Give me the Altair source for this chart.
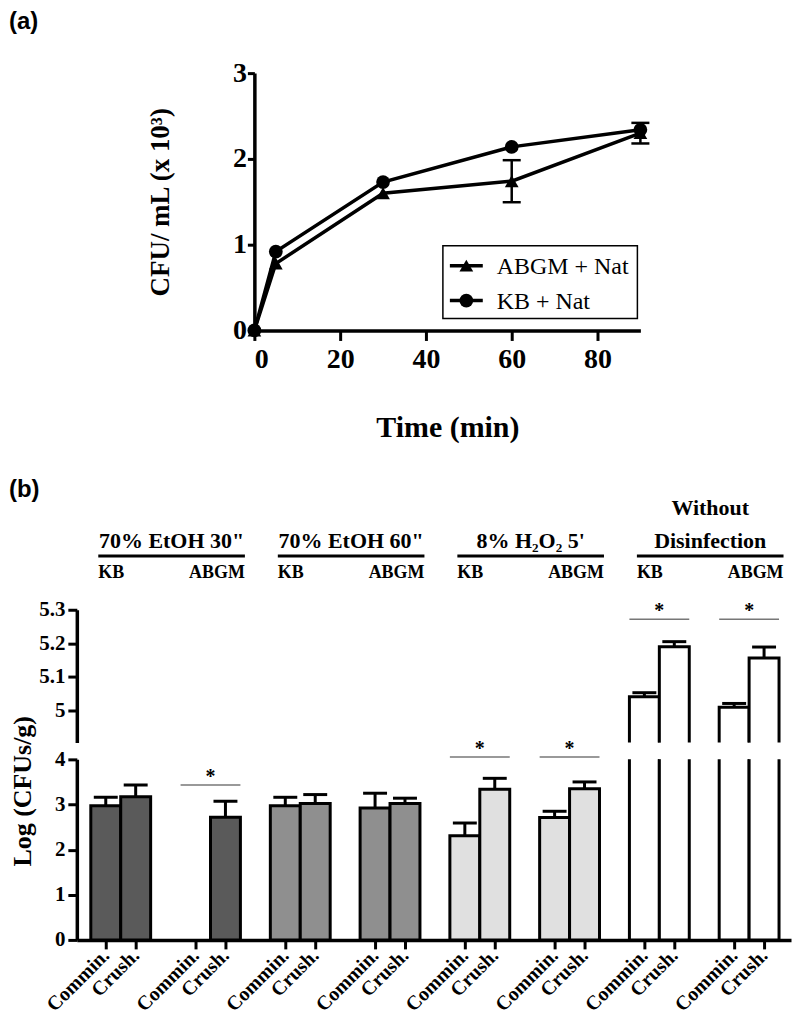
import altair as alt
import pandas as pd

SERIF = "Liberation Serif"
SANS = "Liberation Sans"

# ---------------- Panel (a) data ----------------
time_min = [0, 5, 30, 60, 90]
abgm_nat = [0.0, 0.78, 1.60, 1.74, 2.30]
abgm_nat_err = [0.0, 0.0, 0.0, 0.245, 0.12]
kb_nat = [0.0, 0.92, 1.73, 2.14, 2.34]
kb_nat_err = [0.0, 0.0, 0.0, 0.0, 0.0]
series_names = ["ABGM + Nat", "KB + Nat"]
series_shapes = ["triangle-up", "circle"]

# ---------------- Panel (b) data ----------------
treatments_upper = ["", "", "", "Without"]
treatments_lower = ["70% EtOH 30\"", "70% EtOH 60\"", "8% H\u2082O\u2082 5'", "Disinfection"]
media = ["KB", "ABGM"]
methods = ["Commin.", "Crush."]
log_cfu = [2.97, 3.17, 0.0, 2.72, 2.97, 3.02, 2.92, 3.02,
           2.31, 3.34, 2.71, 3.35, 5.041, 5.190, 5.010, 5.156]
log_cfu_err = [0.19, 0.26, 0.0, 0.35, 0.19, 0.20, 0.33, 0.12,
               0.28, 0.24, 0.14, 0.15, 0.012, 0.015, 0.011, 0.033]
fill_by_treatment = ["#5a5a5a", "#8f8f8f", "#e0e0e0", "#ffffff"]
significant_groups = [1, 4, 5, 6, 7]
significance_level = [3.43, 4.05, 4.05, 5.272, 5.272]

# ---------------- build tables ----------------
rows_a = []
for name, vals, errs in [(series_names[0], abgm_nat, abgm_nat_err),
                         (series_names[1], kb_nat, kb_nat_err)]:
    for t, v, e in zip(time_min, vals, errs):
        rows_a.append(dict(series=name, time=t, value=v, lo=v - e, hi=v + e,
                           cl=t - 2.1, cr=t + 2.1, err=e))
df_a = pd.DataFrame(rows_a)
df_a_err = df_a[df_a["err"] > 0]

rows_b = []
for i, v in enumerate(log_cfu):
    g, b = divmod(i, 2)
    t = g // 2
    p = 3 * g + b
    rows_b.append(dict(pos=p, left=p - 0.5, right=p + 0.5, value=v,
                       top=v + log_cfu_err[i], cl=p - 0.4, cr=p + 0.4,
                       fill=fill_by_treatment[t], err=log_cfu_err[i], zero=0.0))
df_b = pd.DataFrame(rows_b)
df_bars = df_b[df_b["value"] > 0]
tick_positions = [int(p) for p in df_b["pos"]]

sig = pd.DataFrame(dict(
    g=significant_groups, level=significance_level,
    x0=[3 * g - 0.5 for g in significant_groups],
    x1=[3 * g + 1.5 for g in significant_groups],
    xc=[3 * g + 0.5 for g in significant_groups],
    star=["*"] * len(significant_groups)))
sig_low = sig[sig["level"] < 4.5]
sig_high = sig[sig["level"] > 4.5]

n_tr = len(treatments_lower)
hdr = pd.DataFrame(dict(
    upper=treatments_upper, lower=treatments_lower,
    start=[6 * k - 0.25 for k in range(n_tr)],
    end=[6 * k + 4.65 for k in range(n_tr)]))
hdr["center"] = (hdr["start"] + hdr["end"]) / 2
hdr["kb"] = media[0]
hdr["abgm"] = media[1]

# ---------------- Panel (a) ----------------
WA, HA = 387, 258
xa = alt.X("time:Q", scale=alt.Scale(domain=[0, 90], nice=False),
           axis=alt.Axis(values=[0, 20, 40, 60, 80], title="Time (min)", grid=False,
                         tickSize=10, tickWidth=3, domainWidth=3.5, labelPadding=5,
                         labelFont=SERIF, labelFontSize=28, labelFontWeight="bold",
                         titleFont=SERIF, titleFontSize=30, titleFontWeight="bold",
                         titlePadding=39, labelColor="black", titleColor="black",
                         domainColor="black", tickColor="black"))
ya = alt.Y("value:Q", scale=alt.Scale(domain=[0, 3], nice=False),
           axis=alt.Axis(values=[0, 1, 2, 3], format="d", title="CFU/ mL (x 10\u00b3)",
                         grid=False, tickSize=7, tickWidth=3, domainWidth=3.5,
                         labelPadding=1, labelFont=SERIF, labelFontSize=28,
                         labelFontWeight="bold", titleFont=SERIF, titleFontSize=27,
                         titleFontWeight="bold", titlePadding=58, labelColor="black",
                         titleColor="black", domainColor="black", tickColor="black"))

base_a = alt.Chart(df_a)
lines_a = base_a.mark_line(color="black", strokeWidth=3.5).encode(
    x=xa, y=ya, detail="series:N")
err_a = alt.Chart(df_a_err).mark_rule(color="black", strokeWidth=2.5).encode(
    x="time:Q", y="lo:Q", y2="hi:Q")
cap_lo = alt.Chart(df_a_err).mark_rule(color="black", strokeWidth=2.5).encode(
    x="cl:Q", x2="cr:Q", y="lo:Q")
cap_hi = alt.Chart(df_a_err).mark_rule(color="black", strokeWidth=2.5).encode(
    x="cl:Q", x2="cr:Q", y="hi:Q")
pts_a = base_a.mark_point(filled=True, color="black", opacity=1, size=190).encode(
    x="time:Q", y="value:Q",
    shape=alt.Shape("series:N", scale=alt.Scale(domain=series_names, range=series_shapes),
                    legend=None))

# legend box (drawn by hand to show the line through each symbol)
one = pd.DataFrame({"k": [0]})
legend_layers = [alt.Chart(one).mark_rect(fill="white", stroke="black", strokeWidth=1.5).encode(
    x=alt.value(189), x2=alt.value(384), y=alt.value(173), y2=alt.value(246))]
for i, (name, shp) in enumerate(zip(series_names, series_shapes)):
    ly = 193 + 35 * i
    row = pd.DataFrame({"label": [name]})
    legend_layers.append(alt.Chart(row).mark_rule(color="black", strokeWidth=3.5).encode(
        x=alt.value(196), x2=alt.value(229), y=alt.value(ly)))
    legend_layers.append(alt.Chart(row).mark_point(filled=True, color="black", opacity=1,
                                                   size=190, shape=shp).encode(
        x=alt.value(212.5), y=alt.value(ly)))
    legend_layers.append(alt.Chart(row).mark_text(font=SERIF, fontSize=24, align="left",
                                                  baseline="middle", color="black").encode(
        x=alt.value(243), y=alt.value(ly + 1), text="label:N"))

label_a = alt.Chart(pd.DataFrame({"t": ["(a)"]})).mark_text(
    font=SANS, fontSize=24, fontWeight="bold", align="left", baseline="middle",
    color="black").encode(text="t:N", x=alt.value(-246), y=alt.value(-51))

panel_a = alt.layer(lines_a, err_a, cap_lo, cap_hi, pts_a, *legend_layers, label_a
                    ).properties(width=WA, height=HA)

spacer = alt.Chart(pd.DataFrame({"s": [""]})).mark_text().encode(
    text="s:N", x=alt.value(0), y=alt.value(0)).properties(width=178, height=HA)

# ---------------- Panel (b) ----------------
WB = 716
xdom = [-0.967, 22.9]
xs = alt.Scale(domain=xdom, nice=False, zero=False)

ax_common = dict(grid=False, tickWidth=3, domainWidth=3.5, labelFont=SERIF,
                 labelFontWeight="bold", labelColor="black", domainColor="black",
                 tickColor="black")

# top segment
top_scale = alt.Scale(domain=[4.905, 5.3], nice=False, zero=False)
top_axis = alt.Axis(values=[5.0, 5.1, 5.2, 5.3], format="~g", title=None, tickSize=9,
                    labelPadding=3, labelFontSize=21, **ax_common)
bars_top = alt.Chart(df_bars[df_bars["value"] > 4.9]).mark_bar(
    stroke="black", strokeWidth=3, clip=True).encode(
    x=alt.X("left:Q", scale=xs, axis=None), x2="right:Q",
    y=alt.Y("value:Q", scale=top_scale, axis=top_axis), y2="zero:Q",
    fill=alt.Fill("fill:N", scale=None))
err_top = alt.Chart(df_bars[df_bars["value"] > 4.9]).mark_rule(
    color="black", strokeWidth=3).encode(x="pos:Q", y="value:Q", y2="top:Q")
cap_top = alt.Chart(df_bars[df_bars["value"] > 4.9]).mark_rule(
    color="black", strokeWidth=3).encode(x="cl:Q", x2="cr:Q", y="top:Q")
sig_top = alt.Chart(sig_high).mark_rule(color="#777777", strokeWidth=1.5).encode(
    x="x0:Q", x2="x1:Q", y="level:Q")
star_top = alt.Chart(sig_high).mark_text(font=SERIF, fontSize=20, fontWeight="bold",
                                         baseline="alphabetic", dy=-2, color="black").encode(
    x="xc:Q", y="level:Q", text="star:N")
hdr_lower = alt.Chart(hdr).mark_text(font=SERIF, fontSize=22, fontWeight="bold",
                                     baseline="alphabetic", color="black").encode(
    x="center:Q", y=alt.value(-62), text="lower:N")
hdr_upper = alt.Chart(hdr).mark_text(font=SERIF, fontSize=22, fontWeight="bold",
                                     baseline="alphabetic", color="black").encode(
    x="center:Q", y=alt.value(-95), text="upper:N")
hdr_line = alt.Chart(hdr).mark_rule(color="black", strokeWidth=3).encode(
    x="start:Q", x2="end:Q", y=alt.value(-54))
hdr_kb = alt.Chart(hdr).mark_text(font=SERIF, fontSize=18, fontWeight="bold", align="left",
                                  baseline="alphabetic", color="black").encode(
    x="start:Q", y=alt.value(-32), text="kb:N")
hdr_abgm = alt.Chart(hdr).mark_text(font=SERIF, fontSize=18, fontWeight="bold", align="right",
                                    baseline="alphabetic", color="black").encode(
    x="end:Q", y=alt.value(-32), text="abgm:N")
label_b = alt.Chart(pd.DataFrame({"t": ["(b)"]})).mark_text(
    font=SANS, fontSize=24, fontWeight="bold", align="left", baseline="middle",
    color="black").encode(text="t:N", x=alt.value(-68), y=alt.value(-120))

top_seg = alt.layer(bars_top, err_top, cap_top, sig_top, star_top, hdr_lower, hdr_upper,
                    hdr_line, hdr_kb, hdr_abgm, label_b).properties(width=WB, height=133)

# bottom segment
low_scale = alt.Scale(domain=[0, 4], nice=False)
low_axis = alt.Axis(values=[0, 1, 2, 3, 4], format="d", title=None, tickSize=9,
                    labelPadding=3, labelFontSize=21, **ax_common)
x_axis_b = alt.Axis(values=tick_positions, title=None, tickSize=9, labelAngle=315,
                    labelAlign="right", labelBaseline="middle", labelPadding=3,
                    labelFontSize=20, labelOverlap=False, labelBound=False,
                    labelFlush=False,
                    labelExpr="datum.value % 3 == 0 ? 'Commin.' : 'Crush.'", **ax_common)
bars_low = alt.Chart(df_bars).mark_bar(stroke="black", strokeWidth=3, clip=True).encode(
    x=alt.X("left:Q", scale=xs, axis=x_axis_b), x2="right:Q",
    y=alt.Y("value:Q", scale=low_scale, axis=low_axis), y2="zero:Q",
    fill=alt.Fill("fill:N", scale=None))
err_low = alt.Chart(df_bars).mark_rule(color="black", strokeWidth=3, clip=True).encode(
    x="pos:Q", y="value:Q", y2="top:Q")
cap_low = alt.Chart(df_bars).mark_rule(color="black", strokeWidth=3, clip=True).encode(
    x="cl:Q", x2="cr:Q", y="top:Q")
sig_low_rule = alt.Chart(sig_low).mark_rule(color="#777777", strokeWidth=1.5).encode(
    x="x0:Q", x2="x1:Q", y="level:Q")
star_low = alt.Chart(sig_low).mark_text(font=SERIF, fontSize=20, fontWeight="bold",
                                        baseline="alphabetic", dy=-2, color="black").encode(
    x="xc:Q", y="level:Q", text="star:N")
ytitle_b = alt.Chart(pd.DataFrame({"t": ["Log (CFUs/g)"]})).mark_text(
    font=SERIF, fontSize=26, fontWeight="bold", angle=270, align="center",
    baseline="middle", color="black").encode(text="t:N", x=alt.value(-54), y=alt.value(32))

low_seg = alt.layer(bars_low, err_low, cap_low, sig_low_rule, star_low, ytitle_b).properties(
    width=WB, height=181)

chart = alt.vconcat(
    alt.hconcat(spacer, panel_a, spacing=0, bounds="flush"),
    alt.vconcat(top_seg, low_seg, spacing=17, bounds="flush"),
    spacing=538, bounds="flush"
).properties(padding=0).configure_view(stroke="transparent", strokeWidth=0).configure(
    font=SERIF, style={"cell": {"stroke": "transparent"}})

chart.save("out.html", embed_options={"renderer": "svg", "actions": False})
